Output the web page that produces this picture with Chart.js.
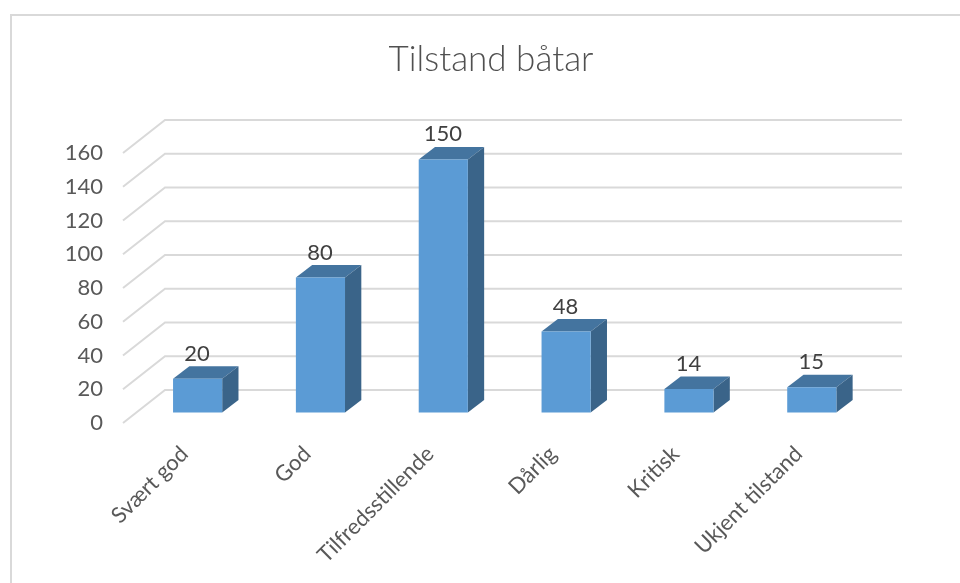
<!DOCTYPE html>
<html lang="no">
<head>
<meta charset="utf-8">
<title>Tilstand båtar</title>
<script src="https://cdn.jsdelivr.net/npm/chart.js@4"></script>
<style>
  html, body { margin: 0; padding: 0; background: #fff; overflow: hidden; }
  #frame { position: absolute; left: 10px; top: 14px; width: 950px; height: 569px;
           border-left: 2px solid #d9d9d9; border-top: 2px solid #d9d9d9; box-sizing: border-box; }
  canvas { position: absolute; left: 0; top: 0; }
</style>
</head>
<body>
<div id="frame"></div>
<canvas id="chart" width="960" height="583"></canvas>
<script>
const categories = ["Svært god", "God", "Tilfredsstillende", "Dårlig", "Kritisk", "Ukjent tilstand"];
const values = [20, 80, 150, 48, 14, 15];
const titleText = "Tilstand båtar";

// depth of the fake 3D wall and of the bars
const wallDepth = { x: 42, y: -33 };
const barShift = { x: 13.2, y: -10.5 };
const barDepth = { x: 16.3, y: -12.5 };

function polygon(ctx, points, color) {
  ctx.beginPath();
  points.forEach(([x, y], index) => (index ? ctx.lineTo(x, y) : ctx.moveTo(x, y)));
  ctx.closePath();
  ctx.fillStyle = color;
  ctx.fill();
}

const wallGrid = {
  id: "wallGrid",
  beforeDatasetsDraw(chart) {
    const { ctx, chartArea, scales } = chart;
    ctx.save();
    ctx.strokeStyle = "#d9d9d9";
    ctx.lineWidth = 2;
    scales.y.ticks.forEach((tick) => {
      const y = scales.y.getPixelForValue(tick.value);
      ctx.beginPath();
      ctx.moveTo(chartArea.left, y);
      ctx.lineTo(chartArea.left + wallDepth.x, y + wallDepth.y);
      ctx.lineTo(chartArea.right + wallDepth.x, y + wallDepth.y);
      ctx.stroke();
    });
    ctx.restore();
  },
};

const bars3d = {
  id: "bars3d",
  afterLayout(chart) {
    // title is centred on the frame, not on the plot area
    chart.titleBlock.left = 22;
    chart.titleBlock.right = 960;
  },
  beforeDatasetDraw(chart) {
    const { ctx } = chart;
    ctx.save();
    ctx.translate(barShift.x, barShift.y);
    chart.getDatasetMeta(0).data.forEach((bar) => {
      const left = bar.x - bar.width / 2;
      const right = bar.x + bar.width / 2;
      const dx = barDepth.x;
      const dy = barDepth.y;
      polygon(ctx, [[left, bar.y], [right, bar.y], [right + dx, bar.y + dy], [left + dx, bar.y + dy]], "#44749f");
      polygon(ctx, [[right, bar.y], [right + dx, bar.y + dy], [right + dx, bar.base + dy], [right, bar.base]], "#3a6489");
    });
  },
  afterDatasetDraw(chart) {
    const { ctx } = chart;
    ctx.restore();
    ctx.save();
    ctx.fillStyle = "#404040";
    ctx.font = "22px Lato";
    ctx.textAlign = "center";
    ctx.textBaseline = "middle";
    chart.getDatasetMeta(0).data.forEach((bar, index) => {
      ctx.fillText(String(values[index]), bar.x + barShift.x - 0.5, bar.y + barShift.y - 25);
    });
    ctx.restore();
  },
};

new Chart(document.getElementById("chart"), {
  type: "bar",
  data: {
    labels: categories,
    datasets: [
      {
        data: values,
        backgroundColor: "#5b9bd5",
        borderWidth: 0,
        categoryPercentage: 1,
        barPercentage: 0.4,
        clip: false,
      },
    ],
  },
  options: {
    responsive: false,
    animation: false,
    devicePixelRatio: 1,
    layout: { padding: { left: 22, right: 100, top: 0, bottom: 0 } },
    plugins: {
      legend: { display: false },
      tooltip: { enabled: false },
      title: {
        display: true,
        text: titleText,
        color: "#505050",
        font: { family: "Lato", size: 35, weight: "300" },
        padding: { top: 39, bottom: 72 },
      },
    },
    scales: {
      x: {
        grid: { display: false },
        border: { display: false },
        afterFit(scale) {
          scale.height = 160;
        },
        ticks: {
          autoSkip: false,
          minRotation: 45,
          maxRotation: 45,
          padding: 10,
          color: "#595959",
          font: { family: "Lato", size: 22 },
        },
      },
      y: {
        min: 0,
        max: 160,
        grid: { display: false, drawTicks: false },
        border: { display: false },
        afterFit(scale) {
          scale.width = 101;
        },
        ticks: {
          stepSize: 20,
          padding: 20,
          color: "#595959",
          font: { family: "Lato", size: 22 },
        },
      },
    },
  },
  plugins: [wallGrid, bars3d],
});
</script>
</body>
</html>
